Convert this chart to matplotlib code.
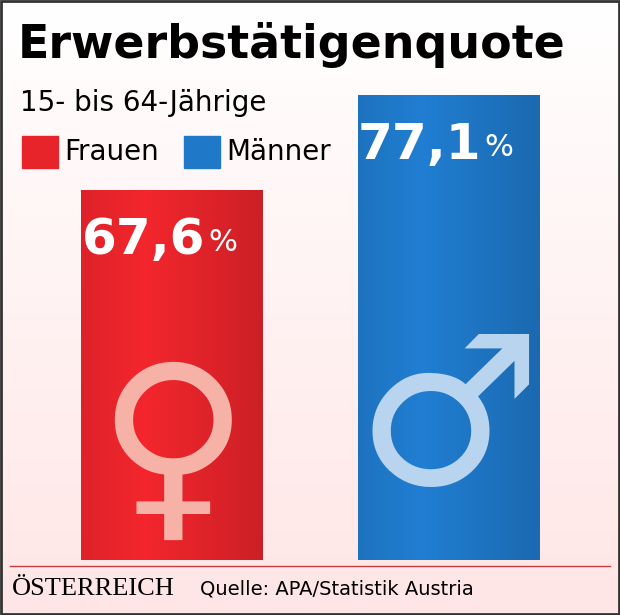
import matplotlib
matplotlib.use("Agg")
import matplotlib.pyplot as plt
import numpy as np
from matplotlib.patches import Rectangle

categories = ["Frauen", "Männer"]
values = [67.6, 77.1]
labels = ["67,6", "77,1"]
colors = ["#e8242b", "#1f78c8"]
symbols = ["♀", "♂"]

W, H = 620, 615
fig = plt.figure(figsize=(W/100, H/100), dpi=100)
bg = fig.add_axes([0, 0, 1, 1])
grad = np.linspace(0, 1, 256).reshape(-1, 1)
bg.imshow(np.dstack([np.ones_like(grad), 1-0.1*grad, 1-0.1*grad]), aspect="auto", extent=[0, 1, 0, 1])
bg.set_xlim(0, 1); bg.set_ylim(0, 1); bg.axis("off")
bg.add_patch(Rectangle((0.002, 0.002), 0.996, 0.996, fill=False, ec="#333", lw=2))

def fx(px): return px / W
def fy(py): return 1 - py / H

name = "DejaVu Sans"
fig.text(fx(18), fy(45), "Erwerbstätigenquote", fontsize=33, fontweight="bold", family=name, va="center")
fig.text(fx(20), fy(103), "15- bis 64-Jährige", fontsize=20, family=name, va="center")
fig.text(fx(64), fy(152), "Frauen", fontsize=20, family=name, va="center")
fig.text(fx(226), fy(152), "Männer", fontsize=20, family=name, va="center")
bg.add_patch(Rectangle((fx(22), fy(168)), fx(36), 32/H, color=colors[0]))
bg.add_patch(Rectangle((fx(184), fy(168)), fx(36), 32/H, color=colors[1]))

ax = fig.add_axes([fx(33.75), fy(560), fx(553), (560-95)/H])
bars = ax.bar(range(len(categories)), values, width=0.655, color=colors, zorder=1)
base = 30.6
for i, b in enumerate(bars):
    c = np.array(matplotlib.colors.to_rgb(colors[i]))
    g = np.linspace(0, 1, 100).reshape(1, -1)
    shade = 1 - 0.25*np.abs(g - 0.35)
    img = np.dstack([np.clip(c[k]*shade*1.05, 0, 1) for k in range(3)])
    im = ax.imshow(img, aspect="auto", extent=[b.get_x(), b.get_x()+b.get_width(), base, values[i]], zorder=2)
    im.set_clip_path(b)
    ax.text(i+0.12, values[i]-5, labels[i], ha="right", va="center", fontsize=36,
            fontweight="bold", color="white", family=name, zorder=3)
    ax.text(i+0.13, values[i]-5.2, "%", ha="left", va="center", fontsize=22,
            color="white", family=name, zorder=3)
ax.text(0, 41, symbols[0], ha="center", va="center", fontsize=150, color="#f7b2a8", family="DejaVu Sans", zorder=3)
ax.text(1, 44, symbols[1], ha="center", va="center", fontsize=150, color="#b8d4ee", family="DejaVu Sans", zorder=3)
ax.set_xlim(-0.5, 1.5)
ax.set_ylim(base, 77.1)
ax.axis("off")

bg.plot([fx(10), fx(610)], [fy(566), fy(566)], color="#c04040", lw=1)
fig.text(fx(12), fy(589), "ÖSTERREICH", fontsize=19, family="Liberation Serif", va="center")
fig.text(fx(200), fy(589), "Quelle: APA/Statistik Austria", fontsize=14, family=name, va="center")

fig.savefig("out.png", dpi=100)
